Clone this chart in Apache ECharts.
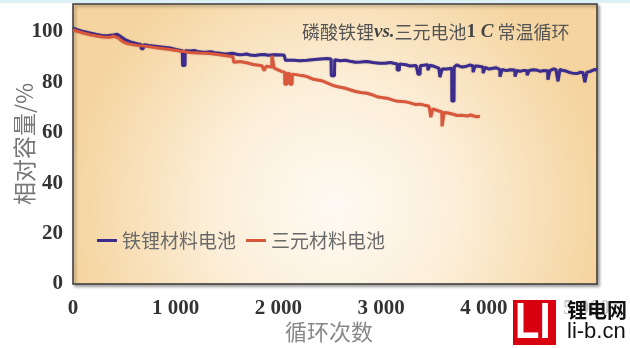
<!DOCTYPE html>
<html>
<head>
<meta charset="utf-8">
<script src="https://cdn.jsdelivr.net/npm/echarts@6/dist/echarts.min.js"></script>
<style>
  html, body { margin: 0; padding: 0; background: #ffffff; }
  #chart { width: 630px; height: 348px; }
</style>
</head>
<body>
<div id="chart"></div>
<script>
// LFP (iron-lithium) cell: cycle number and relative capacity (%)
const lfpCycle = [
  0, 40, 90, 165, 230, 292, 350, 395, 409, 430, 470, 506, 560, 623, 660, 664, 684, 688,
  740, 779, 860, 944, 1000, 1041, 1064, 1066, 1090, 1092, 1150, 1180, 1207, 1250, 1300,
  1340, 1380, 1431, 1470, 1510, 1550, 1596, 1620, 1660, 1690, 1723, 1770, 1820, 1860,
  1900, 1960, 2034, 2055, 2068, 2150, 2210, 2278, 2380, 2472, 2512, 2514, 2545, 2547,
  2600, 2650, 2696, 2750, 2800, 2860, 2920, 2980, 3040, 3090, 3130, 3154, 3156, 3176,
  3178, 3240, 3280, 3340, 3356, 3358, 3378, 3380, 3430, 3452, 3454, 3472, 3474, 3520,
  3560, 3570, 3572, 3590, 3592, 3640, 3686, 3688, 3708, 3710, 3735, 3760, 3790, 3820,
  3860, 3892, 3894, 3912, 3914, 3950, 3990, 3992, 4010, 4012, 4050, 4088, 4120, 4154,
  4156, 4174, 4176, 4220, 4253, 4270, 4300, 4302, 4320, 4322, 4350, 4380, 4418, 4420,
  4438, 4440, 4480, 4520, 4550, 4575, 4620, 4622, 4640, 4642, 4680, 4700, 4718, 4720,
  4738, 4740, 4770, 4800, 4830, 4860, 4905, 4935, 4964, 4980, 4982, 5000, 5002, 5030,
  5052, 5075, 5100
];
const lfpCapacity = [
  101.4, 100.8, 100.2, 99.5, 98.9, 98.4, 98.5, 98.7, 99.4, 99.0, 97.9, 96.9, 96.0, 95.3, 95.0, 93.3, 93.3, 94.9,
  94.6, 94.4, 94.0, 93.6, 93.0, 92.7, 92.6, 86.6, 86.6, 92.5, 92.4, 92.6, 92.2, 92.0, 91.9,
  92.1, 91.7, 91.5, 91.2, 91.3, 91.5, 91.1, 90.9, 91.0, 91.2, 90.8, 90.6, 90.9, 91.0,
  90.7, 90.9, 90.8, 90.7, 88.7, 88.7, 88.5, 88.7, 89.1, 89.4, 89.2, 82.6, 82.6, 88.9,
  88.5, 88.7, 88.3, 87.9, 88.0, 88.2, 87.8, 87.5, 87.5, 87.8, 87.4, 87.3, 84.8, 84.8,
  87.2, 86.9, 86.4, 86.6, 86.6, 83.2, 83.2, 86.5, 86.8, 86.9, 84.8, 84.8, 86.7, 86.2,
  85.6, 85.4, 82.0, 82.0, 85.2, 85.2, 85.5, 72.5, 72.5, 86.0, 86.9, 86.4, 86.0, 86.2,
  86.8, 86.5, 84.0, 84.0, 86.4, 86.3, 86.0, 83.6, 83.6, 85.9, 85.2, 85.5, 85.7, 85.1,
  82.2, 82.2, 85.0, 84.6, 84.9, 85.2, 84.8, 82.3, 82.3, 84.7, 84.3, 84.6, 84.6, 82.8,
  82.8, 84.6, 84.9, 84.7, 84.3, 84.6, 84.5, 81.0, 81.0, 84.6, 85.3, 85.0, 85.0, 80.4,
  80.4, 85.1, 84.6, 84.4, 83.9, 83.6, 83.4, 83.9, 83.8, 83.6, 80.0, 80.0, 84.0, 84.2,
  84.6, 85.0, 84.8
];

// NCM (ternary) cell: cycle number and relative capacity (%)
const ncmCycle = [
  0, 40, 90, 165, 230, 292, 360, 395, 409, 440, 480, 526, 620, 720, 830, 944, 1040, 1138,
  1230, 1333, 1430, 1528, 1555, 1565, 1625, 1700, 1752, 1840, 1858, 1860, 1878, 1880,
  1935, 1937, 1955, 1957, 2034, 2060, 2062, 2082, 2084, 2110, 2112, 2132, 2134, 2200,
  2240, 2278, 2330, 2380, 2420, 2472, 2530, 2580, 2640, 2696, 2750, 2800, 2860, 2920,
  2970, 3020, 3070, 3115, 3160, 3200, 3240, 3280, 3330, 3377, 3420, 3460, 3470, 3480,
  3482, 3500, 3502, 3560, 3590, 3592, 3610, 3612, 3650, 3700, 3740, 3780, 3840, 3870,
  3900, 3930, 3960
];
const ncmCapacity = [
  100.8, 100.2, 99.6, 98.8, 98.3, 97.9, 97.8, 98.2, 98.6, 97.6, 96.2, 95.3, 94.6, 94.2, 93.6, 93.0, 92.4, 91.8,
  91.6, 91.4, 90.9, 90.3, 90.2, 87.9, 88.2, 87.6, 87.0, 86.5, 86.4, 84.6, 84.6, 86.3,
  86.0, 90.6, 90.6, 85.6, 84.2, 84.0, 79.2, 79.2, 83.6, 83.4, 79.2, 79.2, 83.2, 82.8,
  82.6, 82.2, 81.3, 80.9, 80.6, 79.7, 78.7, 78.2, 77.7, 77.0, 76.3, 75.9, 75.6, 74.9,
  74.1, 73.8, 73.5, 72.9, 72.4, 72.3, 72.2, 71.8, 71.2, 71.3, 70.9, 70.6, 69.6, 69.6,
  66.2, 66.2, 69.4, 68.6, 68.3, 62.5, 62.5, 68.0, 67.8, 67.3, 66.8, 66.9, 66.6, 67.0,
  66.6, 66.3, 66.5
];

const seriesNames = ['铁锂材料电池', '三元材料电池'];
const xTickValues = [0, 1000, 2000, 3000, 4000, 5000];
const xTickLabels = ['0', '1 000', '2 000', '3 000', '4 000', '5 000'];
const yTickValues = [0, 20, 40, 60, 80, 100];
const yTickLabels = ['0', '20', '40', '60', '80', '100'];

const zip = (xs, ys) => xs.map((x, i) => [x, ys[i]]);

const numFont = '"Liberation Serif", "DejaVu Serif", serif';
const cjkFont = '"Noto Sans CJK SC", sans-serif';

const chart = echarts.init(document.getElementById('chart'), null, { renderer: 'canvas' });

chart.setOption({
  animation: false,
  backgroundColor: '#ffffff',
  title: {
    left: 297,
    top: 18,
    text: '{cn|磷酸铁锂}{en|vs.}{cn|三元电池}{num|1 }{en|C}{cn| 常温循环}',
    textStyle: {
      fontWeight: 'normal',
      rich: {
        cn: { fontFamily: cjkFont, fontSize: 18, fontWeight: 'normal', color: '#555555' },
        en: { fontFamily: numFont, fontSize: 19, fontWeight: 'bold', fontStyle: 'italic', color: '#444444' },
        num: { fontFamily: numFont, fontSize: 19, fontWeight: 'bold', color: '#444444' }
      }
    }
  },
  legend: {
    left: 97,
    top: 231,
    padding: 0,
    icon: 'rect',
    itemWidth: 20,
    itemHeight: 3,
    itemGap: 10,
    data: seriesNames,
    textStyle: { fontFamily: cjkFont, fontSize: 19, color: '#6a6a6a' }
  },
  grid: {
    show: true,
    left: 73,
    right: 33,
    top: 4,
    bottom: 64,
    containLabel: false,
    outerBoundsMode: 'none',
    borderColor: '#3a3a3a',
    borderWidth: 1.5,
    shadowColor: 'rgba(0,0,0,0.35)',
    shadowBlur: 3,
    shadowOffsetX: 2,
    shadowOffsetY: 2,
    backgroundColor: {
      type: 'radial', x: 0.5, y: 0.72, r: 0.95,
      colorStops: [
        { offset: 0, color: '#fefaf3' },
        { offset: 0.45, color: '#fcefd9' },
        { offset: 1, color: '#f5d49f' }
      ]
    }
  },
  xAxis: {
    type: 'value',
    min: 0,
    max: 5100,
    interval: 1000,
    name: '循环次数',
    nameLocation: 'middle',
    nameGap: 37,
    nameMoveOverlap: false,
    nameTextStyle: { fontFamily: cjkFont, fontSize: 22, color: '#888888', padding: [0, 12, 0, 0] },
    axisLine: { show: false },
    axisTick: { show: false },
    splitLine: { show: false },
    axisLabel: {
      margin: 14,
      fontFamily: numFont,
      fontSize: 21,
      fontWeight: 'bold',
      color: '#333333',
      formatter: v => { const i = xTickValues.indexOf(v); return i >= 0 ? xTickLabels[i] : ''; }
    }
  },
  yAxis: {
    type: 'value',
    min: 0,
    max: 111,
    interval: 20,
    name: '相对容量/%',
    nameLocation: 'middle',
    nameGap: 37,
    nameMoveOverlap: false,
    nameTextStyle: { fontFamily: cjkFont, fontSize: 23, color: '#777777' },
    axisLine: { show: false },
    axisTick: { show: false },
    splitLine: { show: false },
    axisLabel: {
      margin: 10,
      fontFamily: numFont,
      fontSize: 21,
      fontWeight: 'bold',
      color: '#333333',
      formatter: v => { const i = yTickValues.indexOf(v); return i >= 0 ? yTickLabels[i] : ''; }
    }
  },
  series: [
    {
      name: seriesNames[0],
      type: 'line',
      data: zip(lfpCycle, lfpCapacity),
      symbol: 'none',
      color: '#3b2c8e',
      lineStyle: { width: 3, color: '#3b2c8e', shadowColor: 'rgba(20,10,60,0.35)', shadowBlur: 1.5 },
      z: 2
    },
    {
      name: seriesNames[1],
      type: 'line',
      data: zip(ncmCycle, ncmCapacity),
      symbol: 'none',
      color: '#d9573b',
      lineStyle: { width: 3, color: '#d9573b', shadowColor: 'rgba(90,20,10,0.3)', shadowBlur: 1.5 },
      z: 3
    }
  ],
  graphic: [
    { type: 'rect', left: 0, top: 0, z: 100, shape: { width: 630, height: 3 }, style: { fill: '#dcf1f6' } },
    { type: 'rect', left: 560, top: 296, z: 100, shape: { width: 70, height: 52 }, style: { fill: 'rgba(255,255,255,0.72)' } },
    { type: 'rect', left: 513, top: 300, z: 101, shape: { width: 43, height: 45 }, style: { fill: '#d9000f' } },
    {
      type: 'text', left: 515, top: 299, z: 102, scaleX: 0.8,
      style: { text: 'LI', fill: '#ffffff', font: 'bold 50px "Liberation Sans", sans-serif' }
    },
    {
      type: 'text', left: 567, top: 300, z: 102,
      style: { text: '锂电网', fill: '#111111', font: 'bold 20px "Noto Sans CJK SC", sans-serif' }
    },
    {
      type: 'text', left: 567, top: 321, z: 102,
      style: { text: 'li-b.cn', fill: '#111111', font: '22px "Liberation Sans", sans-serif' }
    }
  ]
});
</script>
</body>
</html>
